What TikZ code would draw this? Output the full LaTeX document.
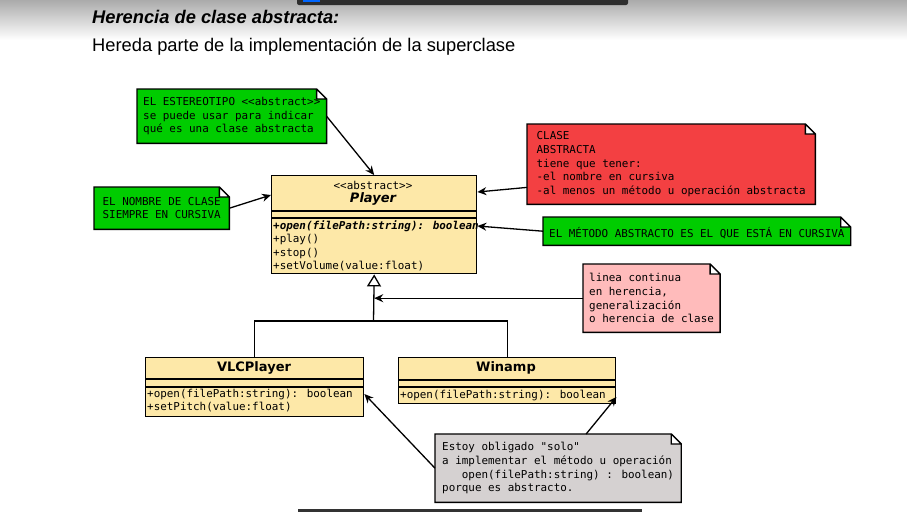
\documentclass[tikz,border=0pt]{standalone}
\usepackage{fontspec}
\setmainfont{Liberation Sans}
\newfontfamily\monofont{DejaVu Sans Mono}
\newfontfamily\umlsans{DejaVu Sans}
\usetikzlibrary{arrows.meta,backgrounds}
\definecolor{verde}{RGB}{0,204,0}
\definecolor{rojo}{RGB}{243,64,66}
\definecolor{rosado}{RGB}{255,187,187}
\definecolor{grisnota}{RGB}{213,209,209}
\definecolor{amarillo}{RGB}{253,232,168}
\tikzset{
  nota/.style={anchor=north west, inner xsep=6pt, align=left, font=\monofont\fontsize{10.9}{13.6}\selectfont,
    execute at begin node={\rule{0pt}{14pt}}},
  clase/.style={draw, line width=1.4pt, fill=amarillo, anchor=north west, inner sep=0pt},
  metodo/.style={anchor=west, inner sep=0pt, font=\monofont\fontsize{10.9}{13}\selectfont},
  nombreclase/.style={inner sep=0pt, font=\umlsans\bfseries\fontsize{13}{15}\selectfont},
  flecha/.style={line width=1.3pt, -{Stealth[length=9pt,width=8pt]}},
  herencia/.style={line width=1.3pt}
}
\begin{document}
\begin{tikzpicture}[x=1pt,y=-1pt]
\useasboundingbox (0,0) rectangle (907,512);
% fondo de la captura
\shade[top color=black!33, bottom color=white] (0,0) rectangle (907,40);
\fill[black!82, rounded corners=2pt] (297,-4) rectangle (628,5);
\fill[blue!60!cyan] (303,0) rectangle (320,2);
\fill[black!80] (298,509) rectangle (642,512);
\node[anchor=west, inner sep=1pt, font=\fontsize{18.3}{20}\selectfont\bfseries\itshape] (titulo) at (91,17) {Herencia de clase abstracta:};
\node[anchor=west, inner sep=1pt, font=\fontsize{18.3}{20}\selectfont] (subtitulo) at (91,47) {Hereda parte de la implementación de la superclase};

% clases
\node[clase, minimum width=205, minimum height=98] (player) at (271,175) {};
\draw[line width=1.4pt] (271,211) -- (476,211) (271,218) -- (476,218);
\node[inner sep=0pt, font=\monofont\fontsize{10.9}{13}\selectfont] (estereo) at (373,185) {<{}<abstract>{}>};
\node[nombreclase, font=\umlsans\bfseries\itshape\fontsize{13}{15}\selectfont] (nplayer) at (373,199) {Player};
\node[metodo, font=\monofont\bfseries\itshape\fontsize{10.9}{13}\selectfont] (mopen) at (273,226) {+open(filePath:string): boolean};
\node[metodo] (mplay) at (273,239) {+play()};
\node[metodo] (mstop) at (273,253) {+stop()};
\node[metodo] (mvol) at (273,266) {+setVolume(value:float)};

\node[clase, minimum width=218, minimum height=59] (vlc) at (145,357) {};
\draw[line width=1.4pt] (145,379) -- (363,379) (145,387) -- (363,387);
\node[nombreclase] (nvlc) at (254,368) {VLCPlayer};
\node[metodo] (vopen) at (147,394) {+open(filePath:string): boolean};
\node[metodo] (vpitch) at (147,407) {+setPitch(value:float)};

\node[clase, minimum width=217, minimum height=46] (winamp) at (398,357) {};
\draw[line width=1.4pt] (398,380) -- (615,380) (398,387) -- (615,387);
\node[nombreclase] (nwinamp) at (506,368) {Winamp};
\node[metodo] (wopen) at (400,395) {+open(filePath:string): boolean};

% herencia
\coordinate (union) at (373.5,321);
\draw[herencia] (vlc.north) |- (union) -| (winamp.north);
\draw[herencia, -{Triangle[open,length=12pt,width=14pt,line width=1.3pt]}] (union) -- (player.south);

% notas
\node[nota, minimum width=187, minimum height=54] (ster) at (137,89) {EL ESTEREOTIPO <{}<abstract>{}>\\se puede usar para indicar\\qué es una clase abstracta};
\node[nota, minimum width=135, minimum height=42] (nombre) at (94,187) {EL NOMBRE DE CLASE\\SIEMPRE EN CURSIVA};
\node[nota, minimum width=288, minimum height=80] (roja) at (527,124) {CLASE\\ABSTRACTA\\tiene que tener:\\-el nombre en cursiva\\-al menos un método u operación abstracta};
\node[nota, minimum width=307, minimum height=28] (metodo) at (543,217) {EL MÉTODO ABSTRACTO ES EL QUE ESTÁ EN CURSIVA};
\node[nota, minimum width=134, minimum height=68] (rosa) at (583,264) {linea continua\\en herencia,\\generalización\\o herencia de clase};
\node[nota, minimum width=241, minimum height=68, inner xsep=7pt] (gris) at (435,434) {Estoy obligado "solo"\\a implementar el método u operación\\\ \ \ open(filePath:string) : boolean)\\porque es abstracto.};

\begin{pgfonlayer}{background}
\foreach \n/\c in {ster/verde, nombre/verde, roja/rojo, metodo/verde, rosa/rosado, gris/grisnota}
  \filldraw[fill=\c, draw=black, line width=1.4pt] (\n.south west) -- (\n.north west) -- ([xshift=-10pt]\n.north east) -- ([yshift=-10pt]\n.north east) -- (\n.south east) -- cycle
    ([xshift=-10pt]\n.north east) |- ([yshift=-10pt]\n.north east);
\end{pgfonlayer}

% flechas de las notas
\draw[flecha] (ster.east) -- (player.north);
\draw[flecha] (nombre.east) -- ([yshift=-20pt]player.north west);
\draw[flecha] ([yshift=17pt]roja.south west) -- ([yshift=-17pt]player.north east);
\draw[flecha] (metodo.west) -- ([yshift=-51pt]player.north east);
\draw[flecha] (rosa.west) -- (player.south |- rosa.west);
\draw[flecha] (gris.west) -- ([yshift=-37pt]vlc.north east);
\draw[flecha] ([xshift=28pt]gris.north) -- ([yshift=-40pt]winamp.north east);
\end{tikzpicture}
\end{document}
